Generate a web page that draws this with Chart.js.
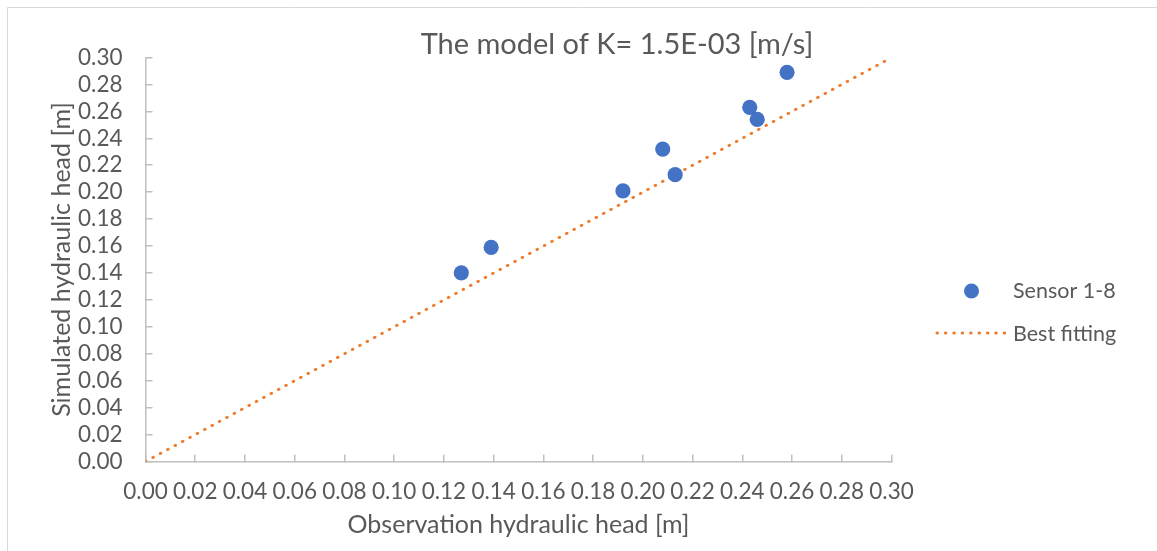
<!DOCTYPE html>
<html lang="en">
<head>
  <meta charset="UTF-8" />
  <title>The model of K= 1.5E-03 [m/s]</title>
  <script src="https://cdn.jsdelivr.net/npm/chart.js"></script>
  <style>
    html, body { margin: 0; padding: 0; background: #fff; }
    #wrap { width: 1157px; height: 551px; }
  </style>
</head>
<body>
  <div id="wrap"><canvas id="graphique" width="1157" height="551"></canvas></div>

  <script>
    // observed vs simulated heads [m]
    const observed  = [0.127, 0.139, 0.192, 0.208, 0.213, 0.243, 0.246, 0.258];
    const simulated = [0.140, 0.159, 0.201, 0.232, 0.213, 0.263, 0.254, 0.289];
    // 1:1 line
    const fitX = [0, 0.30];
    const fitY = [0, 0.30];

    const titleText = 'The model of K= 1.5E-03 [m/s]';
    const xTitle = 'Observation hydraulic head [m]';
    const yTitle = 'Simulated hydraulic head [m]';
    const seriesNames = ['Sensor 1-8', 'Best fitting'];

    const FONT = 'Lato, "Open Sans", sans-serif';
    const TXT = '#595959';
    const AXIS = '#BFBFBF';
    const BLUE = '#4472C4';
    const ORANGE = '#ED7D31';

    // title, legend and frame drawn by hand (Excel style)
    const decor = {
      id: 'decor',
      beforeDraw(chart) {
        const c = chart.ctx;
        c.save();
        c.strokeStyle = '#D9D9D9';
        c.lineWidth = 1;
        c.beginPath();
        c.moveTo(7.5, 560); c.lineTo(7.5, 7.5); c.lineTo(1160, 7.5);
        c.stroke();
        c.restore();
      },
      afterDraw(chart) {
        const c = chart.ctx;
        c.save();
        c.fillStyle = TXT;
        c.font = '29px ' + FONT;
        c.textAlign = 'center';
        c.textBaseline = 'alphabetic';
        c.fillText(titleText, 617, 54);

        // legend
        c.textAlign = 'left';
        c.font = '21.5px ' + FONT;
        c.fillStyle = BLUE;
        c.beginPath();
        c.arc(971.5, 291, 7.5, 0, Math.PI * 2);
        c.fill();
        c.fillStyle = TXT;
        c.fillText(seriesNames[0], 1013, 298);

        c.strokeStyle = ORANGE;
        c.lineWidth = 3;
        c.lineCap = 'round';
        c.setLineDash([0.5, 7.9]);
        c.beginPath();
        c.moveTo(937, 333); c.lineTo(1007, 333);
        c.stroke();
        c.setLineDash([]);
        c.fillText(seriesNames[1], 1013, 341);
        c.restore();
      }
    };

    const ctx = document.getElementById('graphique').getContext('2d');

    new Chart(ctx, {
      type: 'scatter',
      data: {
        datasets: [
          {
            label: seriesNames[0],
            data: observed.map((x, i) => ({ x: x, y: simulated[i] })),
            backgroundColor: BLUE,
            borderColor: BLUE,
            borderWidth: 0,
            pointRadius: 7.6,
            pointHoverRadius: 7.6
          },
          {
            label: seriesNames[1],
            data: fitX.map((x, i) => ({ x: x, y: fitY[i] })),
            showLine: true,
            borderColor: ORANGE,
            borderWidth: 3,
            borderDash: [0.5, 7.9],
            borderCapStyle: 'round',
            pointRadius: 0,
            pointHoverRadius: 0
          }
        ]
      },
      options: {
        responsive: false,
        animation: false,
        layout: { padding: { left: 8, top: 57.5, right: 265.5, bottom: 0 } },
        plugins: {
          legend: { display: false },
          title: { display: false },
          tooltip: { enabled: false }
        },
        scales: {
          x: {
            type: 'linear',
            min: 0,
            max: 0.30,
            afterFit(scale) { scale.height = 89.5; },
            ticks: {
              stepSize: 0.02,
              autoSkip: false,
              maxRotation: 0,
              color: TXT,
              font: { family: FONT, size: 22.5 },
              padding: 23.5,
              callback: v => v.toFixed(2)
            },
            grid: { drawOnChartArea: false, color: AXIS, lineWidth: 1.5, tickLength: -7 },
            border: { color: AXIS, width: 1.5 },
            title: {
              display: true,
              text: xTitle,
              color: TXT,
              font: { family: FONT, size: 25 },
              padding: { top: 0, bottom: 11 }
            }
          },
          y: {
            type: 'linear',
            min: 0,
            max: 0.30,
            afterFit(scale) { scale.width = 137.5; },
            ticks: {
              stepSize: 0.02,
              autoSkip: false,
              color: TXT,
              font: { family: FONT, size: 22.5 },
              padding: 30,
              callback: v => v.toFixed(2)
            },
            grid: { drawOnChartArea: false, color: AXIS, lineWidth: 1.5, tickLength: -7 },
            border: { color: AXIS, width: 1.5 },
            title: {
              display: true,
              text: yTitle,
              color: TXT,
              font: { family: FONT, size: 25 },
              padding: { top: 39, bottom: 0 }
            }
          }
        }
      },
      plugins: [decor]
    });
  </script>
</body>
</html>
